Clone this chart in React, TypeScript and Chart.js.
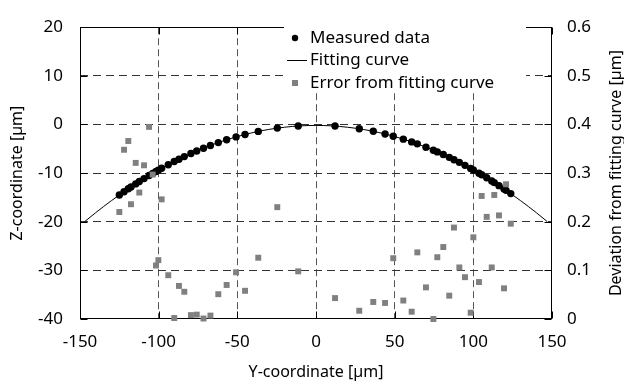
import React, { useEffect, useRef } from 'react';
import { Chart, registerables } from 'chart.js';

Chart.register(...registerables);

// Y-coordinate of each measured point [µm]
const measuredX = [
  -125.0, -122.0, -119.3, -117.6, -114.6, -112.3, -109.3, -106.1, -103.8, -101.7, -100.2, -98.1,
  -93.9, -90.1, -87.1, -83.7, -79.5, -75.8, -71.5, -67.1, -62.1, -56.8, -50.8, -45.1, -36.7, -24.6, -11.3,
  12.1, 27.5, 36.4, 43.9, 49.1, 55.5, 60.8, 64.4, 69.9, 74.6, 77.1, 80.9, 84.7, 87.7, 91.1, 94.7,
  98.3, 100.0, 103.6, 105.3, 108.5, 111.7, 113.3, 116.3, 119.5, 120.8, 123.8,
];
// Z-coordinate of each measured point [µm]
const measuredZ = [
  -14.5, -13.82, -13.22, -12.85, -12.22, -11.74, -11.13, -10.5, -10.06, -9.66, -9.39, -9.01,
  -8.27, -7.63, -7.14, -6.61, -5.98, -5.46, -4.88, -4.32, -3.73, -3.15, -2.56, -2.06, -1.43, -0.75, -0.32,
  -0.33, -0.89, -1.41, -1.96, -2.41, -3.02, -3.58, -3.99, -4.67, -5.29, -5.64, -6.19, -6.76, -7.24, -7.79, -8.41,
  -9.04, -9.35, -10.02, -10.35, -10.97, -11.62, -11.95, -12.58, -13.27, -13.55, -14.22,
];
// Deviation from fitting curve [µm]
const errorDev = [
  0.22, 0.348, 0.366, 0.236, 0.321, 0.26, 0.316, 0.395, 0.297, 0.11, 0.121, 0.246,
  0.09, 0.002, 0.068, 0.056, 0.008, 0.009, 0.001, 0.007, 0.051, 0.07, 0.096, 0.058, 0.126, 0.23, 0.098,
  0.043, 0.017, 0.035, 0.033, 0.125, 0.038, 0.015, 0.137, 0.065, 0.0, 0.127, 0.148, 0.048, 0.188, 0.106, 0.086,
  0.013, 0.168, 0.076, 0.253, 0.21, 0.106, 0.255, 0.213, 0.063, 0.277, 0.196,
];
// Fitting curve samples
const fitX = [-147, -140, -130, -120, -110, -100, -90, -80, -70, -60, -50, -40, -30, -20, -10, 0,
  10, 20, 30, 40, 50, 60, 70, 80, 90, 100, 110, 120, 130, 140, 147];
const fitZ = [-19.97, -18.13, -15.66, -13.38, -11.27, -9.35, -7.61, -6.06, -4.68, -3.49, -2.49, -1.66, -1.02, -0.57, -0.29, -0.2,
  -0.29, -0.57, -1.02, -1.66, -2.49, -3.49, -4.68, -6.06, -7.61, -9.35, -11.27, -13.38, -15.66, -18.13, -19.97];

const seriesLabels = ['Measured data', 'Fitting curve', 'Error from fitting curve'];
const xTitle = 'Y-coordinate [µm]';
const yTitle = 'Z-coordinate [µm]';
const y1Title = 'Deviation from fitting curve [µm]';

const FONT = 'Noto Sans';
const GRAY = '#808080';

const framePlugin = {
  id: 'frameTicks',
  beforeDatasetsDraw(chart: any) {
    const { ctx, chartArea: a, scales } = chart;
    ctx.save();
    ctx.strokeStyle = '#000';
    ctx.lineWidth = 1;
    ctx.setLineDash([]);
    const L = Math.round(a.left) + 0.5, R = Math.round(a.right) - 0.5;
    const T = Math.round(a.top) + 0.5, B = Math.round(a.bottom) - 0.5;
    ctx.strokeRect(L, T, R - L, B - T);
    const tl = 7;
    ctx.beginPath();
    scales.x.ticks.forEach((t: any) => {
      const p = Math.round(scales.x.getPixelForValue(t.value)) + 0.5;
      ctx.moveTo(p, B); ctx.lineTo(p, B - tl);
      ctx.moveTo(p, T); ctx.lineTo(p, T + tl);
    });
    scales.y.ticks.forEach((t: any) => {
      const p = Math.round(scales.y.getPixelForValue(t.value)) + 0.5;
      ctx.moveTo(L, p); ctx.lineTo(L + tl, p);
    });
    scales.y1.ticks.forEach((t: any) => {
      const p = Math.round(scales.y1.getPixelForValue(t.value)) + 0.5;
      ctx.moveTo(R, p); ctx.lineTo(R - tl, p);
    });
    ctx.stroke();
    ctx.restore();
  },
  afterDatasetsDraw(chart: any) {
    const { ctx, chartArea: a } = chart;
    const ds = chart.data.datasets;
    ctx.save();
    ctx.fillStyle = '#fff';
    ctx.fillRect(284, 23, 242, 70);
    ctx.font = `17px "${FONT}"`;
    ctx.textBaseline = 'middle';
    ctx.textAlign = 'left';
    const tx = 310;
    ctx.fillStyle = '#000';
    ctx.beginPath();
    ctx.arc(295, 38, 3.2, 0, Math.PI * 2);
    ctx.fill();
    ctx.fillText(ds[0].label, tx, 38);
    ctx.beginPath();
    ctx.strokeStyle = '#000';
    ctx.lineWidth = 1;
    ctx.moveTo(287, 60.5);
    ctx.lineTo(307, 60.5);
    ctx.stroke();
    ctx.fillText(ds[1].label, tx, 60);
    ctx.fillStyle = GRAY;
    ctx.fillRect(292, 80, 6, 6);
    ctx.fillStyle = '#000';
    ctx.fillText(ds[2].label, tx, 83);

    // right axis title, reading bottom to top
    ctx.translate(616, (a.top + a.bottom) / 2);
    ctx.rotate(-Math.PI / 2);
    ctx.textAlign = 'center';
    ctx.font = `16px "${FONT}"`;
    ctx.fillText(y1Title, 0, 0);
    ctx.restore();
  },
};

export default function App() {
  const ref = useRef<HTMLCanvasElement>(null);
  useEffect(() => {
    document.body.style.margin = '0';
    const canvas = ref.current!;
    const edgeHidden = (col: string) => (c: any) => {
      const s = c.scale;
      if (!c.tick) return col;
      return c.tick.value === s.min || c.tick.value === s.max ? 'rgba(0,0,0,0)' : col;
    };
    const chart = new Chart(canvas, {
      type: 'scatter',
      data: {
        datasets: [
          {
            label: seriesLabels[0],
            data: measuredX.map((x, i) => ({ x, y: measuredZ[i] })),
            backgroundColor: '#000',
            borderColor: '#000',
            pointRadius: 3.7,
            pointBorderWidth: 0,
            yAxisID: 'y',
            order: 1,
          },
          {
            type: 'line',
            label: seriesLabels[1],
            data: fitX.map((x, i) => ({ x, y: fitZ[i] })),
            borderColor: '#000',
            borderWidth: 1,
            pointRadius: 0,
            fill: false,
            cubicInterpolationMode: 'monotone',
            yAxisID: 'y',
            order: 2,
          },
          {
            label: seriesLabels[2],
            data: measuredX.map((x, i) => ({ x, y: errorDev[i] })),
            backgroundColor: GRAY,
            borderColor: GRAY,
            pointStyle: 'rect',
            pointRadius: 4.2,
            pointBorderWidth: 0,
            yAxisID: 'y1',
            clip: false,
            order: 0,
          },
        ] as any,
      },
      options: {
        responsive: false,
        animation: false,
        devicePixelRatio: 1,
        layout: { padding: { top: 19, left: 0, right: 0, bottom: 0 } },
        plugins: { legend: { display: false }, tooltip: { enabled: false } },
        scales: {
          x: {
            type: 'linear',
            position: 'bottom',
            min: -150,
            max: 150,
            ticks: { stepSize: 50, color: '#000', padding: 13, font: { family: FONT, size: 17 } },
            grid: { color: edgeHidden('#555'), drawTicks: false, lineWidth: 1 },
            border: { display: false, dash: [7, 4] },
            title: { display: true, text: xTitle, color: '#000', font: { family: FONT, size: 16 }, padding: { top: 0, bottom: 3 } },
            afterFit: (s: any) => { s.height = 66; },
          },
          y: {
            type: 'linear',
            position: 'left',
            min: -40,
            max: 20,
            ticks: { stepSize: 10, color: '#000', padding: 17, font: { family: FONT, size: 17 } },
            grid: { color: edgeHidden('#333'), drawTicks: false, lineWidth: 1 },
            border: { display: false, dash: [8, 5] },
            title: { display: true, text: yTitle, color: '#000', font: { family: FONT, size: 16 }, padding: { top: 8, bottom: 0 } },
            afterFit: (s: any) => { s.width = 80; },
          },
          y1: {
            type: 'linear',
            position: 'right',
            min: 0,
            max: 0.6,
            ticks: {
              stepSize: 0.1,
              color: '#000',
              padding: 15,
              font: { family: FONT, size: 17 },
              callback: (v: any) => (v === 0 ? '0' : Number(v).toFixed(1)),
            },
            grid: { display: false, drawTicks: false },
            border: { display: false },
            title: { display: false },
            afterFit: (s: any) => { s.width = 72; },
          },
        },
      } as any,
      plugins: [framePlugin],
    });
    return () => chart.destroy();
  }, []);
  return (
    <div style={{ width: 624, height: 385 }}>
      <canvas ref={ref} width={624} height={385} style={{ display: 'block' }} />
    </div>
  );
}
